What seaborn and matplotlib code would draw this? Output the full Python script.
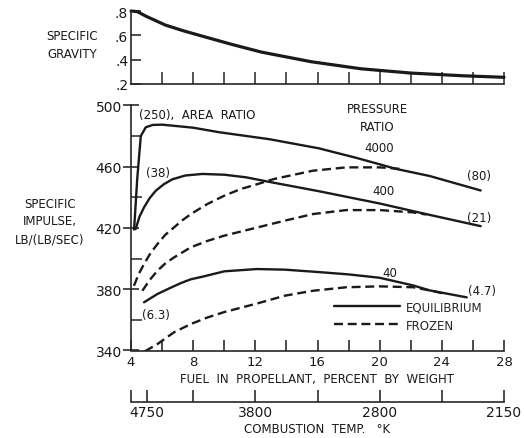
import numpy as np
import pandas as pd
import matplotlib
matplotlib.use("Agg")
import matplotlib.pyplot as plt
import seaborn as sns
from matplotlib.lines import Line2D

# ---------------- data ----------------
fuel_eq_4000 = [4.2, 4.4, 4.63, 4.95, 5.4, 6.0, 7.0, 8.0, 9.7, 12.9, 16.1, 18.5, 21.1, 23.2, 26.5]
isp_eq_4000 = [419, 452, 480, 485.8, 487.3, 487.5, 486.5, 485.5, 482.5, 478, 472, 465.8, 458.5, 454, 444.5]

fuel_eq_400 = [4.3, 4.55, 4.84, 5.2, 5.59, 6.1, 6.66, 7.5, 8.6, 10.0, 11.4, 12.7, 16.1, 20.0, 23.2, 26.5]
isp_eq_400 = [419.3, 427.5, 433.5, 439.5, 444.3, 448.5, 451.8, 454.3, 455.3, 454.8, 453.1, 450.5, 444.0, 436.0, 428.6, 421.2]

fuel_eq_40 = [4.84, 5.7, 6.45, 7.2, 7.85, 8.6, 10.0, 12.1, 13.9, 16.1, 18.0, 20.0, 22.15, 23.2, 25.6]
isp_eq_40 = [371.5, 376.9, 380.5, 384.0, 386.5, 388.2, 391.7, 393.2, 392.8, 391.2, 389.7, 387.5, 382.5, 379.3, 374.7]

fuel_fr_4000 = [4.19, 4.5, 4.84, 5.25, 5.7, 6.2, 6.77, 7.3, 7.85, 8.92, 10.0, 11.08, 12.15, 13.2, 15.7, 17.85, 20.0, 21.5]
isp_fr_4000 = [382.3, 390, 396.5, 403.5, 409.5, 415.5, 420.4, 425, 429.1, 435.7, 441.1, 445.5, 448.7, 452, 457.4, 459.6, 459.6, 458.5]

fuel_fr_400 = [4.73, 5.2, 5.7, 6.2, 6.77, 7.85, 8.9, 10.0, 12.15, 13.9, 15.7, 17.85, 20.0, 22.15, 23.0]
isp_fr_400 = [379, 386, 392.1, 396.8, 400.8, 407.4, 411.5, 415, 420.4, 424.8, 429.1, 431.7, 431.7, 430.2, 428.8]

fuel_fr_40 = [4.9, 5.7, 6.77, 7.85, 8.9, 10.0, 12.15, 13.9, 15.7, 17.85, 20.0, 22.15, 23.2, 24.3]
isp_fr_40 = [339.5, 344.2, 351.9, 357.3, 361.5, 365.1, 370.8, 375.8, 379, 381.3, 381.9, 381.3, 379.3, 376.8]

fuel_sg = [4.0, 4.4, 5.0, 6.2, 7.3, 8.4, 10.5, 12.4, 15.6, 18.8, 22.0, 25.3, 28.0]
sg = [0.80, 0.795, 0.755, 0.685, 0.64, 0.60, 0.525, 0.462, 0.383, 0.325, 0.29, 0.268, 0.255]

isp_ticks = [340, 380, 420, 460, 500]
isp_minor = [360, 400, 440, 480]
fuel_ticks = [4, 8, 12, 16, 20, 24, 28]
fuel_minor = [6, 10, 14, 18, 22, 26]
sg_ticks = [0.2, 0.4, 0.6, 0.8]
sg_labels = [".2", ".4", ".6", ".8"]
temp_tick_fuel = [5, 12, 20, 28]
temp_labels = ["4750", "3800", "2800", "2150"]
temp_minor_fuel = [4, 8, 16, 24]

curves = [
    ("4000", "EQUILIBRIUM", fuel_eq_4000, isp_eq_4000),
    ("400", "EQUILIBRIUM", fuel_eq_400, isp_eq_400),
    ("40", "EQUILIBRIUM", fuel_eq_40, isp_eq_40),
    ("4000", "FROZEN", fuel_fr_4000, isp_fr_4000),
    ("400", "FROZEN", fuel_fr_400, isp_fr_400),
    ("40", "FROZEN", fuel_fr_40, isp_fr_40),
]
rows = []
for pr, kind, fx, iy in curves:
    for a, b in zip(fx, iy):
        rows.append({"fuel": a, "isp": b, "pressure": pr, "kind": kind, "curve": pr + kind})
df = pd.DataFrame(rows)

# ---------------- style ----------------
sns.set_style("ticks")
plt.rcParams["font.family"] = ["DejaVu Sans"]
plt.rcParams["axes.linewidth"] = 1.2
INK = "#1a1a1a"

W, H = 524, 439
fig = plt.figure(figsize=(W / 100, H / 100), dpi=100)
ax = fig.add_axes([131 / W, 1 - 351.5 / H, 373 / W, 245 / H])
axt = fig.add_axes([131 / W, 1 - 85 / H, 373 / W, 73 / H])
axT = fig.add_axes([131 / W, 1 - 403 / H, 373 / W, 0.0001])

DASH = (3.8, 2.0)
sns.lineplot(data=df, x="fuel", y="isp", units="curve", estimator=None, style="kind",
             dashes={"EQUILIBRIUM": "", "FROZEN": DASH}, color=INK, lw=1.7,
             sort=False, legend=False, ax=ax)

ax.set_xlim(4, 28)
ax.set_ylim(340, 500)
for s in ["top", "right"]:
    ax.spines[s].set_visible(False)
ax.set_xticks(fuel_ticks)
ax.set_xticks(fuel_minor, minor=True)
ax.set_yticks(isp_ticks)
ax.set_yticks(isp_minor, minor=True)
ax.tick_params(axis="x", which="both", direction="in", length=8, width=1.1, pad=3,
               labelsize=9.5, colors=INK)
ax.tick_params(axis="y", which="major", direction="inout", length=11, width=1.1, pad=1,
               labelsize=10, colors=INK)
ax.tick_params(axis="y", which="minor", direction="in", length=8, width=1.1)
ax.set_xlabel("FUEL  IN  PROPELLANT,  PERCENT  BY  WEIGHT", fontsize=8.5, color=INK, labelpad=3)
ax.set_ylabel("")

# annotations
tkw = dict(fontsize=8.5, color=INK)
ax.text(4.5, 494.4, "(250),  AREA  RATIO", ha="left", va="center", **tkw)
ax.text(19.84, 492, "PRESSURE\nRATIO", ha="center", va="center", linespacing=1.5, **tkw)
ax.text(20.0, 472.7, "4000", ha="center", va="center", **tkw)
ax.text(20.26, 444.4, "400", ha="center", va="center", **tkw)
ax.text(20.65, 391.0, "40", ha="center", va="center", **tkw)
ax.text(25.6, 454.2, "(80)", ha="left", va="center", **tkw)
ax.text(25.6, 427.0, "(21)", ha="left", va="center", **tkw)
ax.text(25.7, 379.0, "(4.7)", ha="left", va="center", **tkw)
ax.text(4.95, 456.4, "(38)", ha="left", va="center", **tkw)
ax.text(4.73, 363.8, "(6.3)", ha="left", va="center", **tkw)

handles = [Line2D([], [], color=INK, lw=1.7),
           Line2D([], [], color=INK, lw=1.7, dashes=DASH)]
ax.legend(handles, ["EQUILIBRIUM", "FROZEN"], frameon=False, loc="upper left",
          bbox_to_anchor=(0.545, 0.205), handlelength=5.6, handletextpad=0.5,
          labelspacing=0.45, fontsize=8.5, borderaxespad=0, borderpad=0)

fig.text(50 / W, 1 - 222 / H, "SPECIFIC\nIMPULSE,\nLB/(LB/SEC)", ha="center", va="center",
         linespacing=1.5, **tkw)

# ---------------- top panel ----------------
sns.lineplot(x=fuel_sg, y=sg, color=INK, lw=2.3, ax=axt, sort=False, estimator=None)
for ln in axt.lines:
    ln.set_clip_on(False)
axt.set_xlim(4, 28)
axt.set_ylim(0.2, 0.8)
for s in ["top", "right"]:
    axt.spines[s].set_visible(False)
axt.set_xticks(list(range(6, 29, 2)))
axt.set_xticklabels([])
axt.set_yticks(sg_ticks)
axt.set_yticklabels(sg_labels)
axt.tick_params(axis="x", direction="in", length=9, width=1.1)
axt.tick_params(axis="y", direction="in", length=7, width=1.1, pad=2, labelsize=10, colors=INK)
fig.text(72 / W, 1 - 45 / H, "SPECIFIC\nGRAVITY", ha="center", va="center", linespacing=1.5, **tkw)

# ---------------- temperature scale ----------------
axT.set_xlim(4, 28)
axT.set_yticks([])
for s in ["top", "right", "left"]:
    axT.spines[s].set_visible(False)
axT.patch.set_visible(False)
axT.set_xticks(temp_tick_fuel)
axT.set_xticklabels(temp_labels)
axT.set_xticks(temp_minor_fuel, minor=True)
axT.tick_params(axis="x", which="both", direction="in", length=9, width=1.1, pad=2,
                labelsize=10, colors=INK)
axT.set_xlabel("COMBUSTION  TEMP.   \u00b0K", fontsize=8.5, color=INK, labelpad=2)

fig.savefig("out.png", dpi=100)
